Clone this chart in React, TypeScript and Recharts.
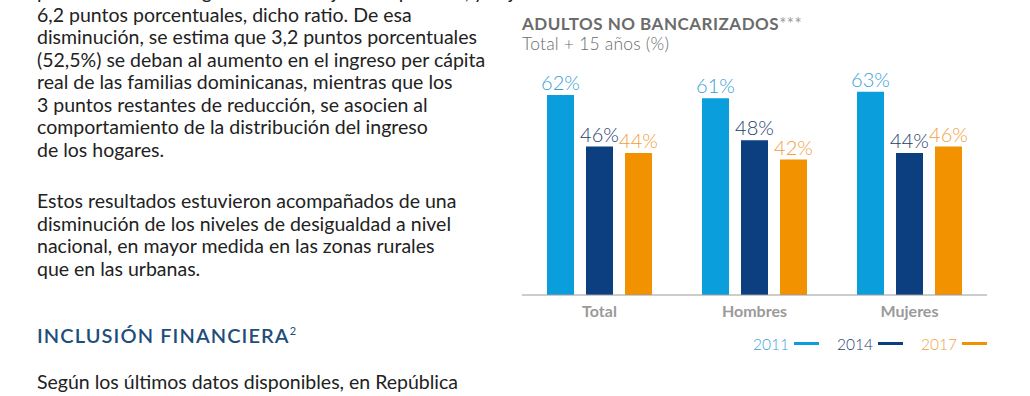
import { Bar, BarChart, LabelList, Legend, XAxis, YAxis } from "recharts";

const categories = ["Total", "Hombres", "Mujeres"];
const years = ["2011", "2014", "2017"];
const values2011 = [62, 61, 63];
const values2014 = [46, 48, 44];
const values2017 = [44, 42, 46];
const colors = ["#0a9fdc", "#0b3f80", "#f39200"];
const labelColors = ["#3a9fd6", "#23406e", "#f0a040"];

const paragraph1 = [
  "6,2 puntos porcentuales, dicho ratio. De esa",
  "disminución, se estima que 3,2 puntos porcentuales",
  "(52,5%) se deban al aumento en el ingreso per cápita",
  "real de las familias dominicanas, mientras que los",
  "3 puntos restantes de reducción, se asocien al",
  "comportamiento de la distribución del ingreso",
  "de los hogares.",
];
const paragraph2 = [
  "Estos resultados estuvieron acompañados de una",
  "disminución de los niveles de desigualdad a nivel",
  "nacional, en mayor medida en las zonas rurales",
  "que en las urbanas.",
];

const data = categories.map((name, i) => ({
  name,
  y2011: values2011[i],
  y2014: values2014[i],
  y2017: values2017[i],
}));

const textFont = "Lato, 'Open Sans', sans-serif";

function LegendRow() {
  return (
    <div
      style={{
        display: "flex",
        justifyContent: "flex-end",
        alignItems: "center",
        height: 35,
        marginTop: 1,
        fontFamily: textFont,
        fontWeight: 300,
        fontSize: 15.5,
      }}
    >
      {years.map((y, i) => (
        <div key={y} style={{ display: "flex", alignItems: "center", marginLeft: i === 0 ? 0 : 18 }}>
          <span style={{ color: labelColors[i] }}>{y}</span>
          <span
            style={{
              display: "inline-block",
              width: 25,
              height: 3,
              background: colors[i],
              marginLeft: 5,
            }}
          />
        </div>
      ))}
    </div>
  );
}

export default function App() {
  const lineStyle = { height: 22.5, whiteSpace: "nowrap" as const };
  const labelStyle = (i: number) => ({
    fill: labelColors[i],
    fontSize: 20,
    fontWeight: 300,
    fontFamily: textFont,
  });
  return (
    <div
      style={{
        position: "absolute",
        left: 0,
        top: 0,
        width: 1030,
        height: 396,
        overflow: "hidden",
        background: "#fff",
        fontFamily: textFont,
        color: "#222",
      }}
    >
      <div style={{ position: "absolute", left: 37, top: -19, fontSize: 19.5, lineHeight: "22.5px" }}>
        <div style={lineStyle}>pobreza monetaria general se redujo en el período, y bajó</div>
        {paragraph1.map((t) => (
          <div key={t} style={lineStyle}>
            {t}
          </div>
        ))}
      </div>
      <div style={{ position: "absolute", left: 37, top: 190, fontSize: 19.5, lineHeight: "22.5px" }}>
        {paragraph2.map((t) => (
          <div key={t} style={lineStyle}>
            {t}
          </div>
        ))}
      </div>
      <div
        style={{
          position: "absolute",
          left: 37,
          top: 323,
          fontSize: 20,
          fontWeight: 600,
          color: "#1f4e7a",
          whiteSpace: "nowrap",
        }}
      >
        <span style={{ letterSpacing: 1.1 }}>INCLUSIÓN FINANCIERA</span>
        <sup style={{ fontSize: 11, fontWeight: 400, marginLeft: 0 }}>2</sup>
      </div>
      <div style={{ position: "absolute", left: 37, top: 370, fontSize: 19.5, whiteSpace: "nowrap" }}>
        Según los últimos datos disponibles, en República
      </div>

      <div
        style={{
          position: "absolute",
          left: 522,
          top: 13,
          fontSize: 17,
          fontWeight: 700,
          letterSpacing: 0.5,
          color: "#6b6b6b",
          whiteSpace: "nowrap",
        }}
      >
        ADULTOS NO BANCARIZADOS<span style={{ color: "#9a9a9a", fontWeight: 400 }}>***</span>
      </div>
      <div
        style={{
          position: "absolute",
          left: 522,
          top: 33,
          fontSize: 17.5,
          fontWeight: 300,
          letterSpacing: 0.2,
          color: "#6b6b6b",
          whiteSpace: "nowrap",
        }}
      >
        Total + 15 años (%)
      </div>

      <div style={{ position: "absolute", left: 522, top: 60 }}>
        <BarChart
          width={465}
          height={300}
          data={data}
          margin={{ top: 0, right: 0, bottom: 0, left: 0 }}
          barSize={27}
          barGap={12}
          barCategoryGap={25}
        >
          <XAxis
            dataKey="name"
            height={30}
            tickLine={false}
            axisLine={{ stroke: "#9a9a9a" }}
            tickMargin={5}
            tick={{ fill: "#9a9a9a", fontSize: 16, fontWeight: 700, fontFamily: textFont }}
          />
          <YAxis hide domain={[0, 72.85]} />
          <Legend verticalAlign="bottom" height={35} content={() => <LegendRow />} />
          <Bar dataKey="y2011" fill={colors[0]} isAnimationActive={false}>
            <LabelList
              dataKey="y2011"
              position="top"
              offset={5}
              formatter={(v: number) => `${v}%`}
              style={labelStyle(0)}
            />
          </Bar>
          <Bar dataKey="y2014" fill={colors[1]} isAnimationActive={false}>
            <LabelList
              dataKey="y2014"
              position="top"
              offset={5}
              formatter={(v: number) => `${v}%`}
              style={labelStyle(1)}
            />
          </Bar>
          <Bar dataKey="y2017" fill={colors[2]} isAnimationActive={false}>
            <LabelList
              dataKey="y2017"
              position="top"
              offset={5}
              formatter={(v: number) => `${v}%`}
              style={labelStyle(2)}
            />
          </Bar>
        </BarChart>
      </div>
    </div>
  );
}
